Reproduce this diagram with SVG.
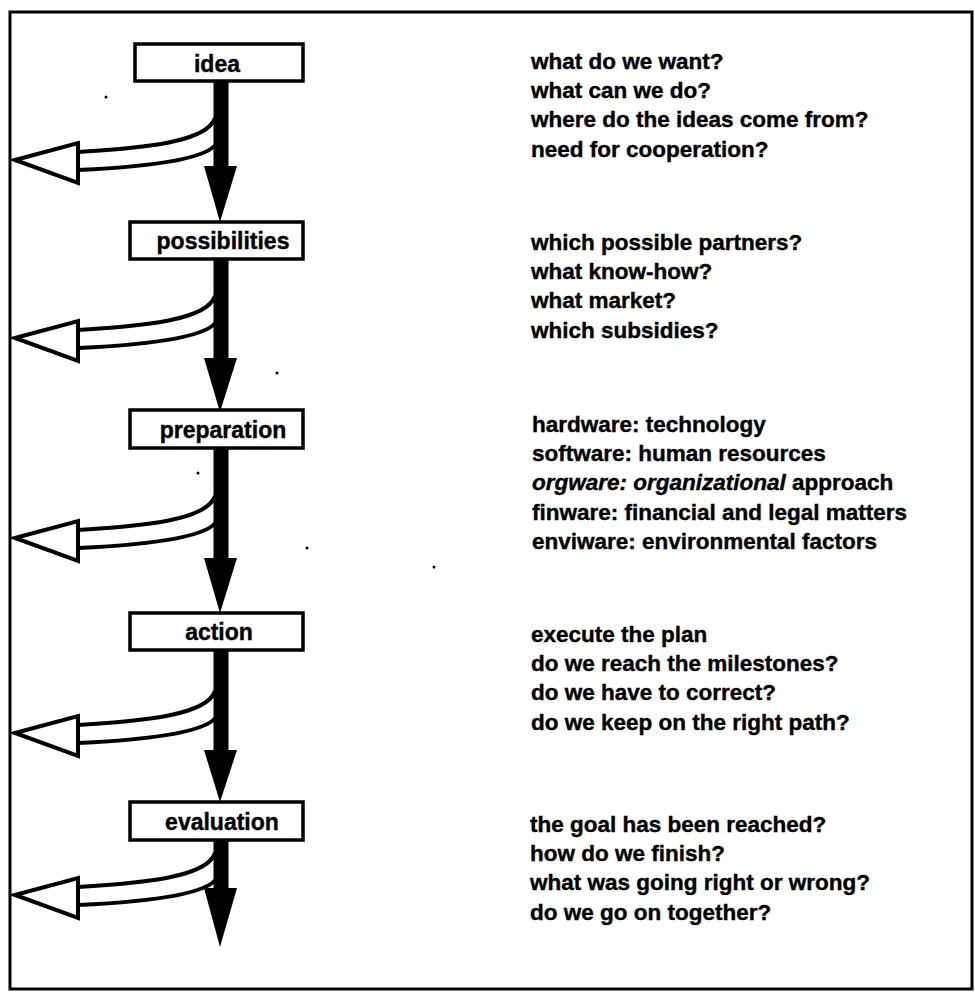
<svg xmlns="http://www.w3.org/2000/svg" xmlns:xlink="http://www.w3.org/1999/xlink" width="975" height="997" viewBox="0 0 975 997">
  <style>
    .frame { fill: none; stroke: #000; stroke-width: 3; }
    .box { fill: #fff; stroke: #000; stroke-width: 3.5; }
    .label { font-family: "Liberation Sans", Arial, Helvetica, sans-serif; font-weight: bold; font-size: 23px; fill: #000; stroke: #000; stroke-width: 0.4; text-anchor: middle; }
    .note { font-family: "Liberation Sans", Arial, Helvetica, sans-serif; font-weight: bold; font-size: 22.5px; fill: #000; stroke: #000; stroke-width: 0.4; }
    .shaft { fill: #000; }
    .band { fill: #fff; stroke: none; }
    .edge { fill: none; stroke: #000; stroke-width: 4; }
    .head { fill: #fff; stroke: #000; stroke-width: 4; stroke-linejoin: miter; }
    .speck { fill: #000; }
  </style>
  <defs>
    <!-- hollow side arrow, tip at the origin -->
    <g id="sideArrow">
      <path class="band" d="M63,-8 C130,-12 192,-18 200,-42 L206,-42 L206,-17 C192,0 130,7 63,10 Z"/>
      <path class="edge" d="M63,-8 C130,-12 192,-18 200,-42"/>
      <path class="edge" d="M63,10 C130,7 192,0 202,-17"/>
      <polygon class="head" points="0,0 63,-17 63,23"/>
    </g>
  </defs>

  <rect class="frame" x="10" y="12" width="962" height="977"/>

  <!-- connectors -->
  <g id="connectors">
    <use xlink:href="#sideArrow" transform="translate(15,160)"/>
    <use xlink:href="#sideArrow" transform="translate(15,338)"/>
    <use xlink:href="#sideArrow" transform="translate(15,538)"/>
    <use xlink:href="#sideArrow" transform="translate(15,733)"/>
    <use xlink:href="#sideArrow" transform="translate(15,895)"/>

    <rect class="shaft" x="213.5" y="80" width="15" height="88"/>
    <polygon class="shaft" points="204,166 237,166 220,222"/>
    <rect class="shaft" x="213.5" y="258" width="15" height="102"/>
    <polygon class="shaft" points="204,358 237,358 220,412"/>
    <rect class="shaft" x="213.5" y="447" width="15" height="113"/>
    <polygon class="shaft" points="204,558 237,558 220,613"/>
    <rect class="shaft" x="213.5" y="649" width="15" height="103"/>
    <polygon class="shaft" points="204,750 237,750 220,802"/>
    <rect class="shaft" x="213.5" y="839" width="15" height="51"/>
    <polygon class="shaft" points="204,888 237,888 220,947"/>
  </g>

  <!-- stages -->
  <g id="idea">
    <rect class="box" x="135" y="44" width="168" height="37"/>
    <text class="label" x="217" y="72">idea</text>
  </g>
  <g id="possibilities">
    <rect class="box" x="130" y="222" width="173" height="37"/>
    <text class="label" x="223" y="249">possibilities</text>
  </g>
  <g id="preparation">
    <rect class="box" x="130" y="410" width="173" height="38"/>
    <text class="label" x="223" y="438">preparation</text>
  </g>
  <g id="action">
    <rect class="box" x="130" y="613" width="173" height="37"/>
    <text class="label" x="219" y="640">action</text>
  </g>
  <g id="evaluation">
    <rect class="box" x="130" y="802" width="173" height="38"/>
    <text class="label" x="222" y="830">evaluation</text>
  </g>

  <!-- questions for each stage -->
  <g id="notes-idea">
    <text class="note" x="531" y="69">what do we want?</text>
    <text class="note" x="531" y="98">what can we do?</text>
    <text class="note" x="531" y="127">where do the ideas come from?</text>
    <text class="note" x="531" y="157">need for cooperation?</text>
  </g>
  <g id="notes-possibilities">
    <text class="note" x="531" y="250">which possible partners?</text>
    <text class="note" x="531" y="279">what know-how?</text>
    <text class="note" x="531" y="308">what market?</text>
    <text class="note" x="531" y="338">which subsidies?</text>
  </g>
  <g id="notes-preparation">
    <text class="note" x="532" y="432">hardware: technology</text>
    <text class="note" x="532" y="461">software: human resources</text>
    <text class="note" x="532" y="490"><tspan font-style="italic">orgware: organizational</tspan> approach</text>
    <text class="note" x="532" y="520">finware: financial and legal matters</text>
    <text class="note" x="532" y="549">enviware: environmental factors</text>
  </g>
  <g id="notes-action">
    <text class="note" x="531" y="642">execute the plan</text>
    <text class="note" x="531" y="671">do we reach the milestones?</text>
    <text class="note" x="531" y="700">do we have to correct?</text>
    <text class="note" x="531" y="730">do we keep on the right path?</text>
  </g>
  <g id="notes-evaluation">
    <text class="note" x="530" y="832">the goal has been reached?</text>
    <text class="note" x="530" y="861">how do we finish?</text>
    <text class="note" x="530" y="890">what was going right or wrong?</text>
    <text class="note" x="530" y="920">do we go on together?</text>
  </g>

  <!-- loose specks -->
  <circle class="speck" cx="106" cy="97" r="1.5"/>
  <circle class="speck" cx="277" cy="373" r="1.5"/>
  <circle class="speck" cx="198" cy="473" r="1.5"/>
  <circle class="speck" cx="307" cy="548" r="1.5"/>
  <circle class="speck" cx="434" cy="567" r="1.5"/>
</svg>
